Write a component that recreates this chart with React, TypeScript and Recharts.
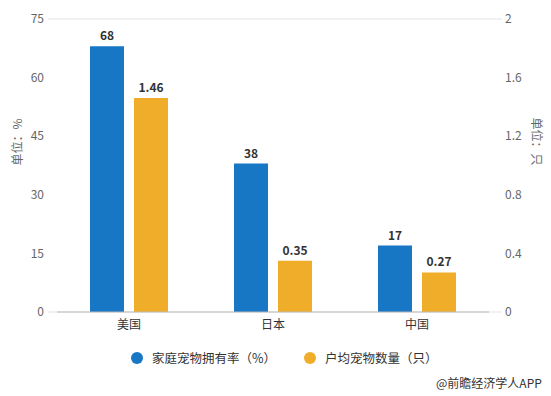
import React from 'react';
import { BarChart, Bar, XAxis, YAxis, CartesianGrid, LabelList } from 'recharts';

const countries = ['美国', '日本', '中国'];
const ownershipRate = [68, 38, 17];
const petsPerHousehold = [1.46, 0.35, 0.27];
const leftTicks = [0, 15, 30, 45, 60, 75];
const rightTicks = [0, 0.4, 0.8, 1.2, 1.6, 2];

const data = countries.map((name, i) => ({
    name,
    rate: ownershipRate[i],
    pets: petsPerHousehold[i],
}));

const BLUE = '#1777c4';
const ORANGE = '#f0ad2a';
const FONT = '"Noto Sans CJK SC", "Noto Sans", sans-serif';

const GridLine = (props: any) => {
    const { x1, x2, y1, y2 } = props;
    return <line x1={x1 - 9} x2={x2 + 13} y1={y1} y2={y2} stroke="#e3e3e3" strokeWidth={1} />;
};

const App: React.FC = () => {
    return (
        <div style={{ position: 'absolute', left: 0, top: 0, width: 551, height: 396, background: '#fff', fontFamily: FONT }}>
            <BarChart
                width={551}
                height={396}
                data={data}
                margin={{ top: 19, right: 0, left: 0, bottom: 54 }}
                barGap={10}
                barCategoryGap="23%"
            >
                <CartesianGrid vertical={false} horizontal={GridLine} />
                <XAxis
                    dataKey="name"
                    axisLine={{ stroke: '#bbb' }}
                    tickLine={false}
                    tickSize={0}
                    tickMargin={8}
                    height={30}
                    tick={{ fontSize: 12, fill: '#333', fontFamily: FONT }}
                />
                <YAxis
                    yAxisId="left"
                    width={57}
                    domain={[0, 75]}
                    ticks={leftTicks}
                    axisLine={false}
                    tickLine={false}
                    tickSize={0}
                    tickMargin={13}
                    tick={{ fontSize: 12, fill: '#666', fontFamily: FONT }}
                    label={{ value: '单位：%', angle: -90, position: 'insideLeft', offset: 18, fontSize: 12, fill: '#666', fontFamily: FONT }}
                />
                <YAxis
                    yAxisId="right"
                    orientation="right"
                    width={62}
                    domain={[0, 2]}
                    ticks={rightTicks}
                    axisLine={false}
                    tickLine={false}
                    tickSize={0}
                    tickMargin={16}
                    tick={{ fontSize: 12, fill: '#666', fontFamily: FONT }}
                    label={{ value: '单位：只', angle: 90, position: 'insideRight', offset: 15, fontSize: 12, fill: '#666', fontFamily: FONT }}
                />
                <Bar yAxisId="left" dataKey="rate" fill={BLUE} barSize={34} isAnimationActive={false}>
                    <LabelList dataKey="rate" position="top" offset={6} style={{ fontSize: 12, fontWeight: 'bold', fill: '#333', fontFamily: FONT }} />
                </Bar>
                <Bar yAxisId="right" dataKey="pets" fill={ORANGE} barSize={34} isAnimationActive={false}>
                    <LabelList dataKey="pets" position="top" offset={6} style={{ fontSize: 12, fontWeight: 'bold', fill: '#333', fontFamily: FONT }} />
                </Bar>
            </BarChart>
            <div style={{ position: 'absolute', left: 0, top: 348, display: 'flex', fontSize: 12.5, color: '#333', fontFamily: FONT }}>
                <span style={{ display: 'flex', alignItems: 'center', marginLeft: 131 }}>
                    <span style={{ width: 12, height: 12, borderRadius: 6, background: BLUE, marginRight: 9 }} />
                    家庭宠物拥有率（%）
                </span>
                <span style={{ display: 'flex', alignItems: 'center', marginLeft: 28 }}>
                    <span style={{ width: 12, height: 12, borderRadius: 6, background: ORANGE, marginRight: 9 }} />
                    户均宠物数量（只）
                </span>
            </div>
            <div style={{ position: 'absolute', left: 436, top: 374, fontSize: 12, color: '#333', fontFamily: FONT }}>
                @前瞻经济学人APP
            </div>
        </div>
    );
};

export default App;
